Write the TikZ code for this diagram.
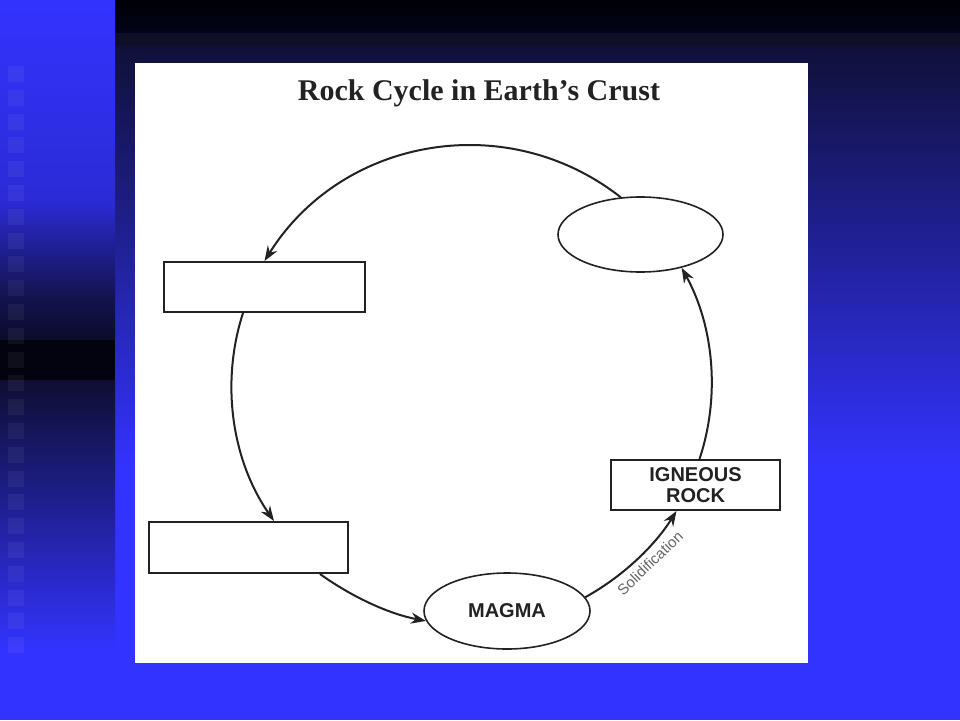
\documentclass[tikz,border=0pt]{standalone}
\usepackage{fontspec}
\setmainfont{Liberation Serif}
\newfontfamily\sansf{Liberation Sans}
\usetikzlibrary{arrows.meta,shapes.geometric}
\definecolor{slideblue}{HTML}{3333FF}
\definecolor{linec}{HTML}{222222}
\definecolor{navyA}{HTML}{10103A}
\definecolor{stripA}{HTML}{2B2BD6}
\definecolor{stripB}{HTML}{12124A}
\definecolor{stripC}{HTML}{0C0C2C}
\definecolor{stripD}{HTML}{03030F}
\definecolor{stripE}{HTML}{0E0E34}
\definecolor{topA}{HTML}{000006}
\definecolor{topB}{HTML}{03031A}
\definecolor{topC}{HTML}{0F0F28}
\definecolor{labelgray}{HTML}{666666}
\tikzset{
  ring/.style={draw=linec, line width=2pt, -{Stealth[length=15pt,width=11pt]}},
  blankbox/.style={rectangle, draw=linec, line width=2pt, fill=white, inner sep=0pt},
  ovalnode/.style={ellipse, draw=linec, line width=1.6pt, fill=white, inner sep=0pt},
  nodetext/.style={font=\sansf\bfseries\fontsize{20}{21}\selectfont, text=linec, align=center},
  tile/.style={fill=white, fill opacity=0.05}
}
\begin{document}
\begin{tikzpicture}[x=1pt,y=-1pt]
\useasboundingbox (0,0) rectangle (960,720);
% background
\fill[slideblue] (0,0) rectangle (960,720);
% right region
\shade[top color=topA, bottom color=topB] (115,0) rectangle (960,33);
\fill[topC] (115,33) rectangle (960,46);
\shade[top color=navyA, bottom color=slideblue] (115,46) rectangle (960,470);
% left strip
\shade[top color=slideblue, bottom color=stripA] (0,0) rectangle (115,200);
\shade[top color=stripA, bottom color=stripB] (0,200) rectangle (115,300);
\shade[top color=stripB, bottom color=stripC] (0,300) rectangle (115,340);
\fill[stripD] (0,340) rectangle (115,380);
\shade[top color=stripE, bottom color=slideblue] (0,380) rectangle (115,650);
\foreach \k in {0,...,24} {
  \fill[tile] (8,{66+23.8*\k}) rectangle (24,{82+23.8*\k});
}
% white panel
\fill[white] (135,63) rectangle (808,663);
% title
\node (title) [anchor=base, font=\bfseries\fontsize{30}{36}\selectfont, text=linec] at (479,100) {Rock Cycle in Earth’s Crust};
% nodes
\node (box1) [blankbox, minimum width=201pt, minimum height=50pt] at (264.5,287) {};
\node (box2) [blankbox, minimum width=199pt, minimum height=51pt] at (248.5,547.5) {};
\node (igneous) [blankbox, minimum width=169pt, minimum height=50pt, nodetext] at (695.5,485) {IGNEOUS\\ROCK};
\node (topell) [ovalnode, minimum width=165pt, minimum height=75pt] at (640.5,234.5) {};
\node (magma) [ovalnode, minimum width=166pt, minimum height=76pt, nodetext] at (507,611) {MAGMA};
% connectors (arcs of one circle)
\draw[ring] (topell.118) .. controls (506.5,107.7) and (341.7,137.7) .. (box1.north);
\draw[ring] ([xshift=-21.5pt]box1.south) .. controls (220.4,382.8) and (231.8,460.1) .. ([xshift=25.5pt]box2.north);
\draw[ring] ([xshift=71.5pt]box2.south) .. controls (351.9,596.9) and (388.9,613.9) .. (magma.187);
\draw[ring] (magma.10) .. controls (622.3,576.7) and (654.2,546.5) .. ([xshift=-19pt]igneous.south);
\draw[ring] ([xshift=4pt]igneous.north) .. controls (720.5,396) and (713.7,326) .. (topell.321);
% label
\node (solid) [rotate=44, text=labelgray, font=\sansf\fontsize{15}{15}\selectfont] at (650,563) {Solidification};
\end{tikzpicture}
\end{document}
